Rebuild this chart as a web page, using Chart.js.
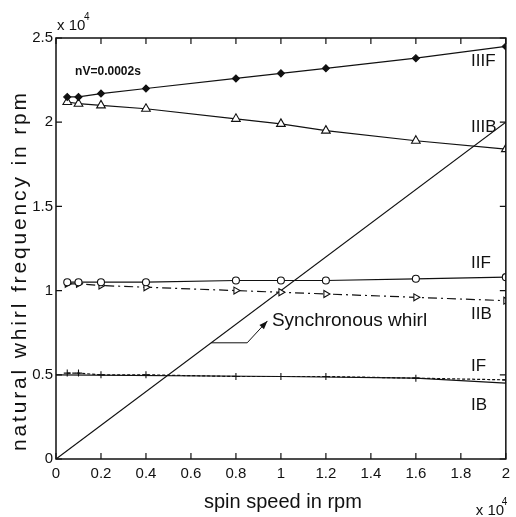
<!DOCTYPE html>
<html>
<head>
<meta charset="utf-8">
<script src="https://cdn.jsdelivr.net/npm/chart.js@4"></script>
<style>
  body { margin: 0; background: #fff; }
  canvas { display: block; }
</style>
</head>
<body>
<canvas id="whirl" width="516" height="517"></canvas>
<script>
// spin speed (x 10^4 rpm) where the modes were computed
const speed = [0.05, 0.1, 0.2, 0.4, 0.8, 1.0, 1.2, 1.6, 2.0];
// natural whirl frequencies (x 10^4 rpm)
const modeIIIF = [2.15, 2.15, 2.17, 2.2, 2.26, 2.29, 2.32, 2.38, 2.45];
const modeIIIB = [2.12, 2.11, 2.1, 2.08, 2.02, 1.99, 1.95, 1.89, 1.84];
const modeIIF = [1.05, 1.05, 1.05, 1.05, 1.06, 1.06, 1.06, 1.07, 1.08];
const modeIIB = [1.04, 1.04, 1.03, 1.02, 1.0, 0.99, 0.98, 0.96, 0.94];
const modeIF = [0.51, 0.51, 0.5, 0.5, 0.49, 0.49, 0.49, 0.48, 0.47];
const speedIB = [0, 1.0, 1.6, 2.0];
const modeIB = [0.5, 0.49, 0.48, 0.45];
const speedSync = [0, 2];
const sync = [0, 2];

const modeNames = ["IIIF", "IIIB", "IIF", "IIB", "IF", "IB"];
const xTicks = [0, 0.2, 0.4, 0.6, 0.8, 1, 1.2, 1.4, 1.6, 1.8, 2];
const yTicks = [0, 0.5, 1, 1.5, 2, 2.5];

const family = '"Liberation Sans Narrow", "Liberation Sans", Arial, sans-serif';
const wide = '"Liberation Sans", Arial, sans-serif';
const ink = "#111";

function pts(xs, ys) {
  return xs.map((x, i) => ({ x: x, y: ys[i] }));
}

function fmt(v) {
  return String(Number(v.toFixed(2)));
}

// frame, inward ticks on all four sides, titles, labels and the arrow
const decor = {
  id: "decor",
  beforeDraw(chart) {
    const c = chart.ctx;
    c.save();
    c.fillStyle = "#fff";
    c.fillRect(0, 0, chart.width, chart.height);
    c.restore();
  },
  afterDraw(chart) {
    const c = chart.ctx;
    const a = chart.chartArea;
    const sx = chart.scales.x, sy = chart.scales.y;
    c.save();
    c.strokeStyle = ink;
    c.lineWidth = 1.5;
    c.strokeRect(a.left, a.top, a.right - a.left, a.bottom - a.top);
    c.lineWidth = 1.2;
    c.beginPath();
    xTicks.forEach(v => {
      const px = sx.getPixelForValue(v);
      c.moveTo(px, a.bottom); c.lineTo(px, a.bottom - 6);
      c.moveTo(px, a.top); c.lineTo(px, a.top + 6);
    });
    yTicks.forEach(v => {
      const py = sy.getPixelForValue(v);
      c.moveTo(a.left, py); c.lineTo(a.left + 6, py);
      c.moveTo(a.right, py); c.lineTo(a.right - 6, py);
    });
    c.stroke();

    c.fillStyle = ink;

    // axis titles
    c.textAlign = "center";
    c.textBaseline = "alphabetic";
    c.font = "20px " + wide;
    c.fillText("spin speed in rpm", (a.left + a.right) / 2 + 2, chart.height - 9);
    c.save();
    c.translate(26, 272);
    c.rotate(-Math.PI / 2);
    c.font = "21px " + wide;
    const yTitle = "natural whirl frequency in rpm";
    const w = c.measureText(yTitle).width;
    const gap = Math.max(0, (358 - w) / (yTitle.length - 1));
    if ("letterSpacing" in c) c.letterSpacing = gap + "px";
    c.fillText(yTitle, gap / 2, 0);
    c.restore();

    c.textBaseline = "middle";
    c.textAlign = "left";
    // mode labels
    c.font = "17px " + family;
    const labelY = [2.36, 1.97, 1.16, 0.86, 0.55, 0.32];
    modeNames.forEach((n, i) => {
      c.fillText(n, sx.getPixelForValue(1.845), sy.getPixelForValue(labelY[i]));
    });
    c.font = "bold 12px " + family;
    c.fillText("nV=0.0002s", sx.getPixelForValue(0.085), sy.getPixelForValue(2.3));

    // exponent markers
    c.font = "15px " + family;
    c.textBaseline = "alphabetic";
    c.fillText("x 10", a.left + 1, a.top - 8);
    c.fillText("x 10", a.right - 30, chart.height - 2);
    c.font = "10px " + family;
    c.fillText("4", a.left + 28, a.top - 18);
    c.fillText("4", a.right - 4, chart.height - 12);

    // synchronous whirl annotation
    c.font = "19px " + wide;
    c.textBaseline = "middle";
    c.fillText("Synchronous whirl", sx.getPixelForValue(0.96), sy.getPixelForValue(0.82));
    const p0 = [sx.getPixelForValue(0.69), sy.getPixelForValue(0.69)];
    const p1 = [sx.getPixelForValue(0.85), sy.getPixelForValue(0.69)];
    const p2 = [sx.getPixelForValue(0.94), sy.getPixelForValue(0.82)];
    c.lineWidth = 1;
    c.beginPath();
    c.moveTo(p0[0], p0[1]); c.lineTo(p1[0], p1[1]); c.lineTo(p2[0], p2[1]);
    c.stroke();
    const ang = Math.atan2(p2[1] - p1[1], p2[0] - p1[0]);
    c.beginPath();
    c.moveTo(p2[0], p2[1]);
    c.lineTo(p2[0] - 9 * Math.cos(ang - 0.35), p2[1] - 9 * Math.sin(ang - 0.35));
    c.lineTo(p2[0] - 9 * Math.cos(ang + 0.35), p2[1] - 9 * Math.sin(ang + 0.35));
    c.closePath();
    c.fill();
    c.restore();
  }
};

function series(label, data, extra) {
  return Object.assign({
    label: label,
    data: data,
    borderColor: ink,
    borderWidth: 1.2,
    backgroundColor: "#fff",
    pointBorderColor: ink,
    pointBorderWidth: 1.1,
    pointRadius: 4,
    tension: 0,
    fill: false
  }, extra);
}

new Chart(document.getElementById("whirl"), {
  type: "line",
  data: {
    datasets: [
      series("IIIF", pts(speed, modeIIIF), { pointStyle: "rectRot", pointRadius: 3.5, pointBackgroundColor: ink }),
      series("IIIB", pts(speed, modeIIIB), { pointStyle: "triangle", pointRadius: 5, pointBackgroundColor: "#fff" }),
      series("IIF", pts(speed, modeIIF), { pointStyle: "circle", pointRadius: 3.5, pointBackgroundColor: "#fff" }),
      series("IIB", pts(speed, modeIIB), { pointStyle: "triangle", rotation: 90, pointRadius: 4, pointBackgroundColor: "#fff", borderDash: [9, 4, 2, 4] }),
      series("IF", pts(speed, modeIF), { pointStyle: "cross", pointRadius: 3.5, borderDash: [3, 2] }),
      series("IB", pts(speedIB, modeIB), { pointRadius: 0 }),
      series("Synchronous whirl", pts(speedSync, sync), { pointRadius: 0 })
    ]
  },
  options: {
    responsive: false,
    animation: false,
    events: [],
    layout: { padding: { top: 38, right: 4, left: 0, bottom: 0 } },
    plugins: { legend: { display: false }, tooltip: { enabled: false } },
    scales: {
      x: {
        type: "linear",
        min: 0,
        max: 2,
        afterBuildTicks: s => { s.ticks = xTicks.map(v => ({ value: v })); },
        afterFit: s => { s.height = 58; },
        ticks: { callback: v => fmt(v), font: { size: 15, family: family }, color: ink, padding: 6, maxRotation: 0, autoSkip: false },
        grid: { display: false, drawTicks: false },
        border: { display: false }
      },
      y: {
        type: "linear",
        min: 0,
        max: 2.5,
        afterBuildTicks: s => { s.ticks = yTicks.map(v => ({ value: v })); },
        afterFit: s => { s.width = 56; },
        ticks: { callback: v => fmt(v), font: { size: 15, family: family }, color: ink, padding: 3 },
        grid: { display: false, drawTicks: false },
        border: { display: false }
      }
    }
  },
  plugins: [decor]
});
</script>
</body>
</html>
